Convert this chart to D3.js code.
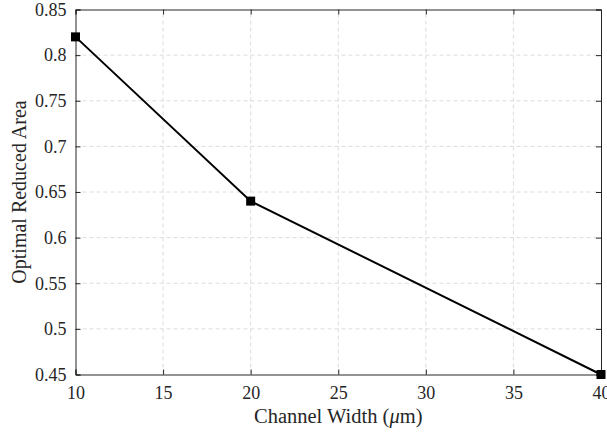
<!DOCTYPE html>
<html><head><meta charset="utf-8">
<script src="https://cdn.jsdelivr.net/npm/d3@7"></script>
<style>body{margin:0;background:#fff}svg{display:block}</style>
</head><body>
<script>
const widths = [10, 20, 40];
const areas = [0.82, 0.64, 0.45];
const xTicks = [10, 15, 20, 25, 30, 35, 40];
const yTicks = [0.45, 0.5, 0.55, 0.6, 0.65, 0.7, 0.75, 0.8, 0.85];
const yTickLabels = ["0.45","0.5","0.55","0.6","0.65","0.7","0.75","0.8","0.85"];

const W = 607, H = 437;
const m = {left: 75.5, right: 6, top: 9.5, bottom: 62.5};
const svg = d3.select("body").append("svg").attr("width", W).attr("height", H);
const x = d3.scaleLinear().domain([10, 40]).range([m.left, W - m.right]);
const y = d3.scaleLinear().domain([0.45, 0.85]).range([H - m.bottom, m.top]);
const font = "'Liberation Serif', 'Times New Roman', serif";
const axisCol = "#262626";

// grid
const g = svg.append("g");
g.selectAll(".gx").data(xTicks.slice(1, -1)).enter().append("line")
  .attr("x1", d => x(d)).attr("x2", d => x(d)).attr("y1", y(0.45)).attr("y2", y(0.85))
  .attr("stroke", "#dcdcdc").attr("stroke-dasharray", "4,3").attr("stroke-width", 1);
g.selectAll(".gy").data(yTicks.slice(1, -1)).enter().append("line")
  .attr("x1", x(10)).attr("x2", x(40)).attr("y1", d => y(d)).attr("y2", d => y(d))
  .attr("stroke", "#dcdcdc").attr("stroke-dasharray", "4,3").attr("stroke-width", 1);

// axes
const xAxis = svg.append("g").attr("transform", `translate(0,${y(0.45)})`)
  .call(d3.axisBottom(x).tickValues(xTicks).tickSize(-5).tickPadding(12).tickFormat(d3.format("d")));
const xTop = svg.append("g").attr("transform", `translate(0,${y(0.85)})`)
  .call(d3.axisTop(x).tickValues(xTicks).tickSize(-5).tickFormat(""));
const yAxis = svg.append("g").attr("transform", `translate(${x(10)},0)`)
  .call(d3.axisLeft(y).tickValues(yTicks).tickSize(-5).tickPadding(9).tickFormat((d, i) => yTickLabels[i]));
const yRight = svg.append("g").attr("transform", `translate(${x(40)},0)`)
  .call(d3.axisRight(y).tickValues(yTicks).tickSize(-5).tickFormat(""));
[xAxis, xTop, yAxis, yRight].forEach(a => {
  a.selectAll("path").attr("stroke", axisCol).attr("stroke-width", 1);
  a.selectAll("line").attr("stroke", axisCol);
  a.selectAll("text").attr("font-family", font).attr("font-size", 18).attr("fill", "#262626");
});

// line
svg.append("path").datum(widths.map((w, i) => [w, areas[i]]))
  .attr("fill", "none").attr("stroke", "#000").attr("stroke-width", 2)
  .attr("d", d3.line().x(d => x(d[0])).y(d => y(d[1])));
svg.selectAll(".pt").data(widths).enter().append("rect")
  .attr("x", (d) => x(d) - 4.5).attr("y", (d, i) => y(areas[i]) - 4.5)
  .attr("width", 9).attr("height", 9).attr("fill", "#000");

// labels
svg.append("text").attr("x", (x(10) + x(40)) / 2).attr("y", 423).attr("text-anchor", "middle")
  .attr("font-family", font).attr("font-size", 20.5).attr("fill", "#262626")
  .html("Channel Width (<tspan font-style='italic'>μ</tspan>m)");
svg.append("text").attr("transform", `translate(26,${(y(0.45) + y(0.85)) / 2}) rotate(-90)`)
  .attr("text-anchor", "middle").attr("font-family", font).attr("font-size", 20).attr("fill", "#262626")
  .text("Optimal Reduced Area");
</script>
</body></html>
